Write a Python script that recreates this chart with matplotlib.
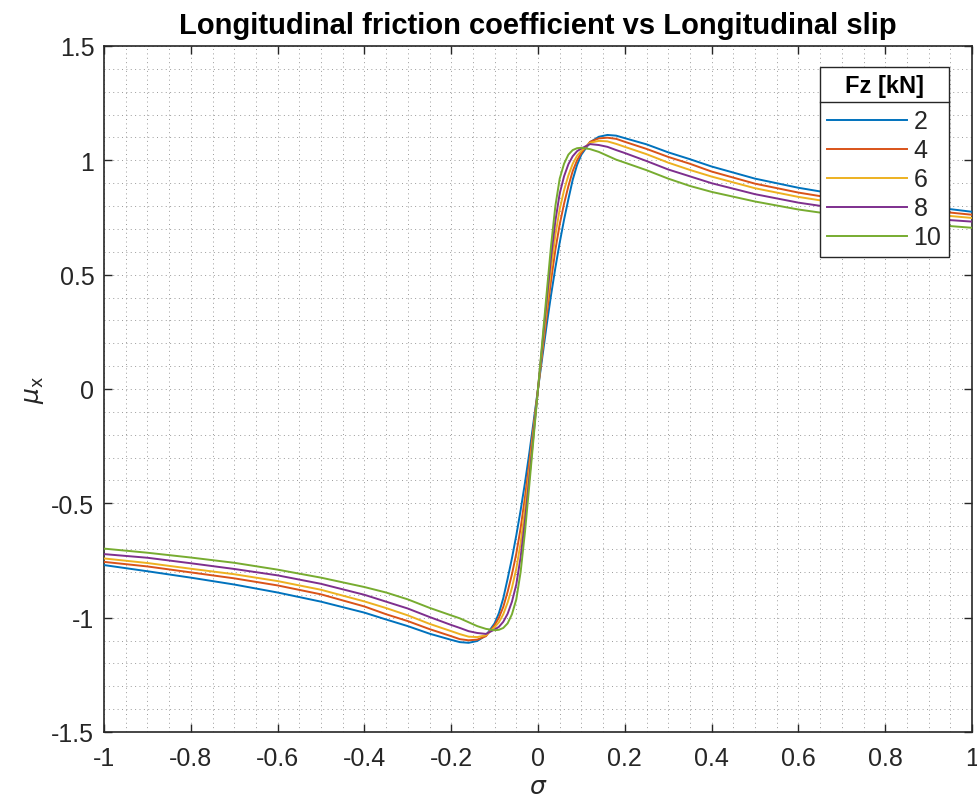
import matplotlib
matplotlib.use("Agg")
import matplotlib.pyplot as plt
from matplotlib.lines import Line2D
from matplotlib.ticker import MultipleLocator

plt.rcParams['font.family'] = ['Liberation Sans', 'DejaVu Sans']
plt.rcParams['mathtext.fontset'] = 'dejavusans'

sigma = [-1.0, -0.9, -0.8, -0.7, -0.6, -0.5, -0.4, -0.35, -0.3, -0.25, -0.2, -0.18, -0.16,
         -0.14, -0.12, -0.10, -0.09, -0.08, -0.07, -0.06, -0.05, -0.04, -0.03, -0.02, -0.01,
         0.0, 0.01, 0.02, 0.03, 0.04, 0.05, 0.06, 0.07, 0.08, 0.09, 0.10, 0.12, 0.14, 0.16,
         0.18, 0.20, 0.25, 0.30, 0.35, 0.40, 0.50, 0.60, 0.70, 0.80, 0.90, 1.0]

mu_2 = [-0.770, -0.797, -0.825, -0.855, -0.890, -0.930, -0.978, -1.008, -1.037, -1.070, -1.097,
        -1.107, -1.110, -1.102, -1.078, -1.025, -0.980, -0.915, -0.830, -0.740, -0.640, -0.530,
        -0.410, -0.280, -0.140,
        0.0, 0.140, 0.280, 0.410, 0.530, 0.640, 0.740, 0.830, 0.915, 0.980, 1.025, 1.079, 1.103,
        1.111, 1.108, 1.097, 1.070, 1.035, 1.005, 0.973, 0.920, 0.880, 0.848, 0.820, 0.798, 0.775]

mu_4 = [-0.756, -0.776, -0.802, -0.828, -0.859, -0.898, -0.951, -0.985, -1.015, -1.050, -1.081,
        -1.094, -1.099, -1.096, -1.081, -1.033, -1.000, -0.953, -0.887, -0.810, -0.720, -0.608,
        -0.473, -0.322, -0.161,
        0.0, 0.161, 0.322, 0.473, 0.608, 0.720, 0.810, 0.887, 0.953, 1.000, 1.033, 1.081, 1.096,
        1.099, 1.094, 1.081, 1.050, 1.015, 0.985, 0.951, 0.898, 0.859, 0.828, 0.802, 0.781, 0.762]

mu_6 = [-0.741, -0.761, -0.786, -0.810, -0.840, -0.878, -0.929, -0.958, -0.990, -1.027, -1.059,
        -1.072, -1.083, -1.085, -1.077, -1.042, -1.020, -0.985, -0.934, -0.869, -0.786, -0.673,
        -0.526, -0.357, -0.179,
        0.0, 0.179, 0.357, 0.526, 0.673, 0.786, 0.869, 0.934, 0.985, 1.020, 1.042, 1.077, 1.085,
        1.083, 1.072, 1.059, 1.027, 0.990, 0.958, 0.929, 0.878, 0.840, 0.810, 0.786, 0.765, 0.748]

mu_8 = [-0.722, -0.738, -0.762, -0.787, -0.815, -0.852, -0.900, -0.930, -0.960, -0.997, -1.032,
        -1.045, -1.059, -1.067, -1.071, -1.052, -1.040, -1.018, -0.983, -0.930, -0.855, -0.735,
        -0.575, -0.390, -0.195,
        0.0, 0.195, 0.390, 0.575, 0.735, 0.855, 0.930, 0.983, 1.018, 1.040, 1.052, 1.071, 1.067,
        1.059, 1.045, 1.032, 0.997, 0.960, 0.930, 0.900, 0.852, 0.815, 0.787, 0.764, 0.745, 0.732]

mu_10 = [-0.698, -0.716, -0.737, -0.760, -0.790, -0.825, -0.866, -0.890, -0.920, -0.957, -0.990,
         -1.003, -1.020, -1.037, -1.049, -1.055, -1.053, -1.045, -1.025, -0.985, -0.920, -0.800,
         -0.625, -0.420, -0.210,
         0.0, 0.210, 0.420, 0.625, 0.800, 0.920, 0.985, 1.025, 1.045, 1.053, 1.055, 1.049, 1.037,
         1.020, 1.003, 0.990, 0.957, 0.920, 0.888, 0.862, 0.820, 0.785, 0.758, 0.738, 0.720, 0.705]

fz_labels = ['2', '4', '6', '8', '10']
series = [mu_2, mu_4, mu_6, mu_8, mu_10]
colors = ['#0072BD', '#D95319', '#EDB120', '#7E2F8E', '#77AC30']

x_ticks = [-1, -0.8, -0.6, -0.4, -0.2, 0, 0.2, 0.4, 0.6, 0.8, 1]
x_ticklabels = ['-1', '-0.8', '-0.6', '-0.4', '-0.2', '0', '0.2', '0.4', '0.6', '0.8', '1']
y_ticks = [-1.5, -1, -0.5, 0, 0.5, 1, 1.5]
y_ticklabels = ['-1.5', '-1', '-0.5', '0', '0.5', '1', '1.5']

W, H = 977, 804
fig = plt.figure(figsize=(W / 100, H / 100), dpi=100)
ax = fig.add_axes([104 / W, 1 - 733 / H, (972 - 104) / W, (733 - 47) / H])

dark = '#262626'
for lab, mu, c in zip(fz_labels, series, colors):
    ax.plot(sigma, mu, color=c, lw=1.4, label=lab, zorder=3)

ax.set_xlim(-1, 1)
ax.set_ylim(-1.5, 1.5)
ax.set_xticks(x_ticks)
ax.set_xticklabels(x_ticklabels)
ax.set_yticks(y_ticks)
ax.set_yticklabels(y_ticklabels)
ax.xaxis.set_minor_locator(MultipleLocator(0.05))
ax.yaxis.set_minor_locator(MultipleLocator(0.1))
ax.tick_params(which='major', direction='in', length=6, width=1.0, color=dark,
               labelsize=18, labelcolor=dark, top=True, right=True)
ax.tick_params(axis='x', which='major', pad=10)
ax.tick_params(axis='y', which='major', pad=7)
ax.tick_params(which='minor', length=0, top=True, right=True)
ax.grid(which='minor', linestyle=(0, (1, 3.5)), color='#9a9a9a', lw=0.7)
ax.grid(which='major', linestyle=(0, (1, 3.5)), color='#9a9a9a', lw=0.7)
ax.set_axisbelow(True)
for sp in ax.spines.values():
    sp.set_color(dark)
    sp.set_linewidth(1.2)

ax.set_title('Longitudinal friction coefficient vs Longitudinal slip',
             fontsize=21, fontweight='bold', color='black', pad=9)
ax.set_xlabel(r'$\sigma$', fontsize=18, color=dark, labelpad=3)
ax.set_ylabel(r'$\mu_{\rm x}$', fontsize=18, color=dark, labelpad=4)

leg = ax.legend(title='Fz [kN]', loc='upper right', bbox_to_anchor=(0.9735, 0.9694),
                borderaxespad=0, fancybox=False, framealpha=1, edgecolor=dark,
                fontsize=18, handlelength=3.2, handletextpad=0.25, labelspacing=0.2,
                borderpad=0.3,
                title_fontproperties={'weight': 'bold', 'size': 17})
leg._legend_box.sep = 8.5
leg.get_frame().set_linewidth(1.0)
for t in leg.get_texts():
    t.set_color(dark)

fig.canvas.draw()
fb = leg.get_frame().get_window_extent()
tb = leg.get_title().get_window_extent()
ysep = tb.y0 - 5
inv = fig.transFigure.inverted()
(x0f, yf), (x1f, _) = inv.transform([(fb.x0, ysep), (fb.x1, ysep)])
fig.add_artist(Line2D([x0f, x1f], [yf, yf], transform=fig.transFigure, color=dark, lw=1.0,
                      zorder=10))

fig.savefig('out.png', dpi=100)
